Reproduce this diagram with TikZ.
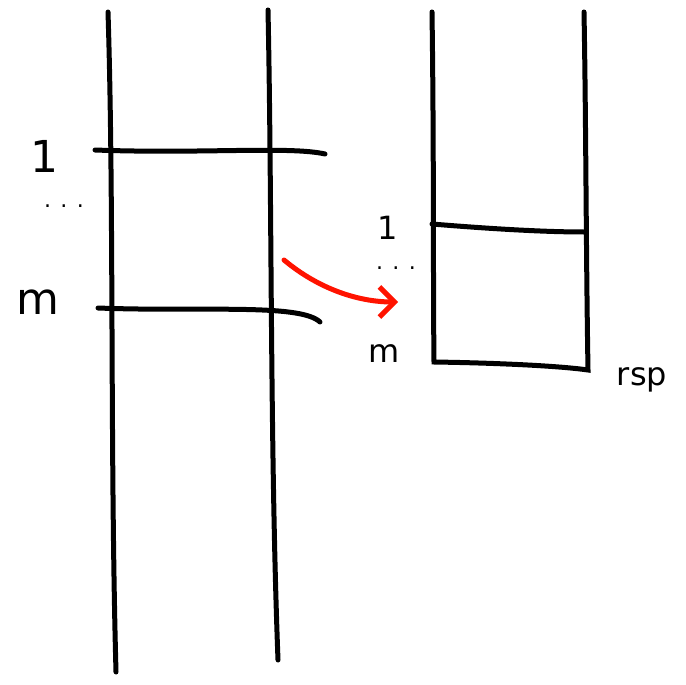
\documentclass[tikz,border=0pt]{standalone}
\usepackage{fontspec}
\setmainfont{DejaVu Sans}
\usetikzlibrary{arrows.meta}
\begin{document}
\begin{tikzpicture}[x=1pt,y=-1pt,
  pen/.style={line width=5pt,line cap=round,black},
  lbl/.style={font=\fontsize{44}{44}\selectfont,inner sep=0pt},
  slbl/.style={font=\fontsize{32}{32}\selectfont,inner sep=0pt},
  dots/.style={font=\fontsize{22}{22}\selectfont,inner sep=0pt}]
\useasboundingbox[fill=white] (0,0) rectangle (686,685);
% left structure
\coordinate (l1t) at (108,12); \coordinate (l1b) at (116,672);
\coordinate (l2t) at (268,10); \coordinate (l2b) at (278,660);
\draw[pen] (l1t) .. controls (114,200) and (110,450) .. (l1b);
\draw[pen] (l2t) .. controls (272,200) and (270,450) .. (l2b);
\coordinate (h1a) at (95,150); \coordinate (h1b) at (325,154);
\draw[pen] (h1a) .. controls (200,154) and (290,146) .. (h1b);
\coordinate (hma) at (98,308); \coordinate (hmb) at (320,322);
\draw[pen] (hma) .. controls (200,312) and (300,303) .. (hmb);
\node[lbl] (one) at (44,156) {1};
\node[dots] (dl) at (64,206) {. . .};
\node[lbl] (m) at (38,302) {m};
% right structure
\coordinate (rtl) at (432,12); \coordinate (rbl) at (434,362);
\coordinate (rtr) at (584,12); \coordinate (rbr) at (588,370);
\draw[pen] (rtl) .. controls (434,150) and (433,280) .. (rbl) .. controls (500,363) and (560,366) .. (rbr) .. controls (586,250) and (586,120) .. (rtr);
\coordinate (r1a) at (432,224); \coordinate (r1b) at (584,232);
\draw[pen] (r1a) .. controls (480,228) and (540,232) .. (r1b);
\node[slbl] (rone) at (388,228) {1};
\node[dots] (rdl) at (396,268) {. . .};
\node[slbl] (rm) at (384,354) {m};
\node[slbl] (rsp) at (642,380) {rsp};
% red arrow
\coordinate (as) at (284,260); \coordinate (ae) at (398,302);
\draw[line width=5pt,red!85!orange,line cap=round,-{Straight Barb[length=15pt,width=30pt]}] (as) .. controls (320,290) and (360,302) .. (ae);
\end{tikzpicture}
\end{document}
